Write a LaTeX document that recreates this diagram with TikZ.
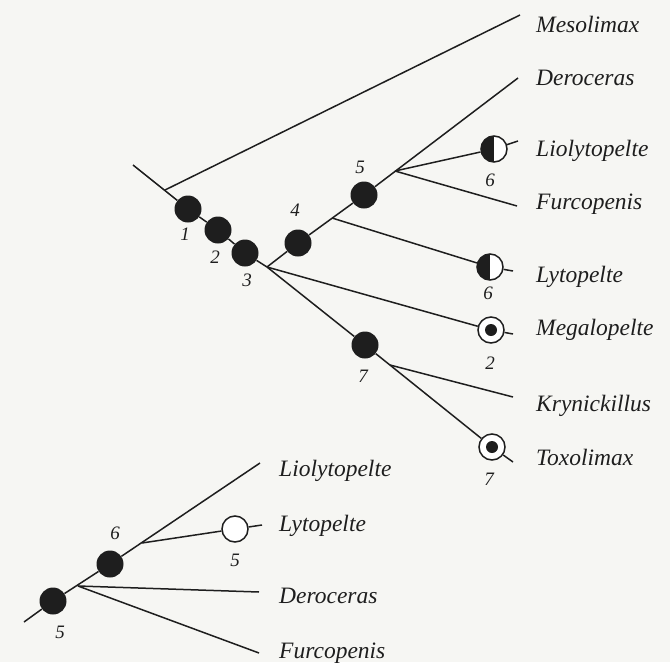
\documentclass[tikz,border=0pt]{standalone}
\usepackage{fontspec}
\setmainfont{Liberation Serif}
\definecolor{paper}{RGB}{246,246,243}
\definecolor{ink}{RGB}{30,30,30}
\begin{document}
\begin{tikzpicture}[x=1pt,y=-1pt,
  br/.style={line width=1.5pt, draw=ink},
  fnode/.style={circle, fill=ink, minimum size=27pt, inner sep=0},
  onode/.style={circle, draw=ink, line width=1.5pt, fill=white, minimum size=26pt, inner sep=0},
  halfnode/.style={onode, path picture={\fill[ink] (path picture bounding box.north west) rectangle (path picture bounding box.south);}},
  dotnode/.style={onode, path picture={\fill[ink] (path picture bounding box.center) circle[radius=6pt];}},
  taxon/.style={anchor=base west, inner sep=0, font=\fontsize{23.5}{23.5}\selectfont\itshape, text=ink},
  num/.style={inner sep=0, font=\fontsize{19}{19}\selectfont\itshape, text=ink}]
\useasboundingbox (0,0) rectangle (670,662);
\fill[paper] (0,0) rectangle (670,662);

% ---------- upper tree ----------
\coordinate (r0) at (133,165);
\coordinate (jM) at (165,190);
\coordinate (j3) at (267,267);
\coordinate (jLy) at (332,218);
\coordinate (jLi) at (395,171);
\coordinate (jK) at (390,365);
\coordinate (eMes) at (520,15);
\coordinate (eDer) at (518,78);
\coordinate (eFur) at (517,206);
\coordinate (eKry) at (513,397);
\coordinate (tLi) at (518,141);
\coordinate (tLy) at (513,271);
\coordinate (tMeg) at (513,334);
\coordinate (tTox) at (513,462);

\node[fnode] (n1) at (188,209) {};
\node[fnode] (n2) at (218,230) {};
\node[fnode] (n3) at (245,253) {};
\node[fnode] (n4) at (298,243) {};
\node[fnode] (n5) at (364,195) {};
\node[fnode] (n7) at (365,345) {};
\node[halfnode] (cLi) at (494,149) {};
\node[halfnode] (cLy) at (490,267) {};
\node[dotnode] (cMeg) at (491,330) {};
\node[dotnode] (cTox) at (492,447) {};

\draw[br] (r0) -- (n1) -- (n2) -- (n3) -- (j3);
\draw[br] (jM) -- (eMes);
\draw[br] (j3) -- (n4) -- (n5) -- (eDer);
\draw[br] (jLy) -- (cLy);
\draw[br] (cLy) -- (tLy);
\draw[br] (jLi) -- (cLi);
\draw[br] (cLi) -- (tLi);
\draw[br] (jLi) -- (eFur);
\draw[br] (j3) -- (cMeg);
\draw[br] (cMeg) -- (tMeg);
\draw[br] (j3) -- (n7) -- (cTox);
\draw[br] (cTox) -- (tTox);
\draw[br] (jK) -- (eKry);

\node[num] (l1) at (185,234) {1};
\node[num] (l2) at (215,257) {2};
\node[num] (l3) at (247,280) {3};
\node[num] (l4) at (295,210) {4};
\node[num] (l5) at (360,167) {5};
\node[num] (l6a) at (490,180) {6};
\node[num] (l6b) at (488,293) {6};
\node[num] (l2b) at (490,363) {2};
\node[num] (l7) at (363,376) {7};
\node[num] (l7b) at (489,479) {7};

\node[taxon] (tMes) at (536,32) {Mesolimax};
\node[taxon] (tDer) at (536,85) {Deroceras};
\node[taxon] (tLio) at (536,156) {Liolytopelte};
\node[taxon] (tFur) at (536,209) {Furcopenis};
\node[taxon] (tLyt) at (536,282) {Lytopelte};
\node[taxon] (tMeg2) at (536,335) {Megalopelte};
\node[taxon] (tKry) at (536,411) {Krynickillus};
\node[taxon] (tTox2) at (536,465) {Toxolimax};

% ---------- lower tree ----------
\coordinate (R0) at (24,622);
\coordinate (J1) at (78,586);
\coordinate (J2) at (142,543);
\coordinate (eLio2) at (260,463);
\coordinate (tLy2) at (262,525);
\coordinate (eDer2) at (259,592);
\coordinate (eFur2) at (259,653);

\node[fnode] (m5) at (53,601) {};
\node[fnode] (m6) at (110,564) {};
\node[onode] (cLy2) at (235,529) {};

\draw[br] (R0) -- (m5) -- (m6) -- (eLio2);
\draw[br] (J2) -- (cLy2);
\draw[br] (cLy2) -- (tLy2);
\draw[br] (J1) -- (eDer2);
\draw[br] (J1) -- (eFur2);

\node[num] (k5) at (60,632) {5};
\node[num] (k6) at (115,533) {6};
\node[num] (k5b) at (235,560) {5};

\node[taxon] (uLio) at (279,476) {Liolytopelte};
\node[taxon] (uLyt) at (279,531) {Lytopelte};
\node[taxon] (uDer) at (279,603) {Deroceras};
\node[taxon] (uFur) at (279,658) {Furcopenis};
\end{tikzpicture}
\end{document}
